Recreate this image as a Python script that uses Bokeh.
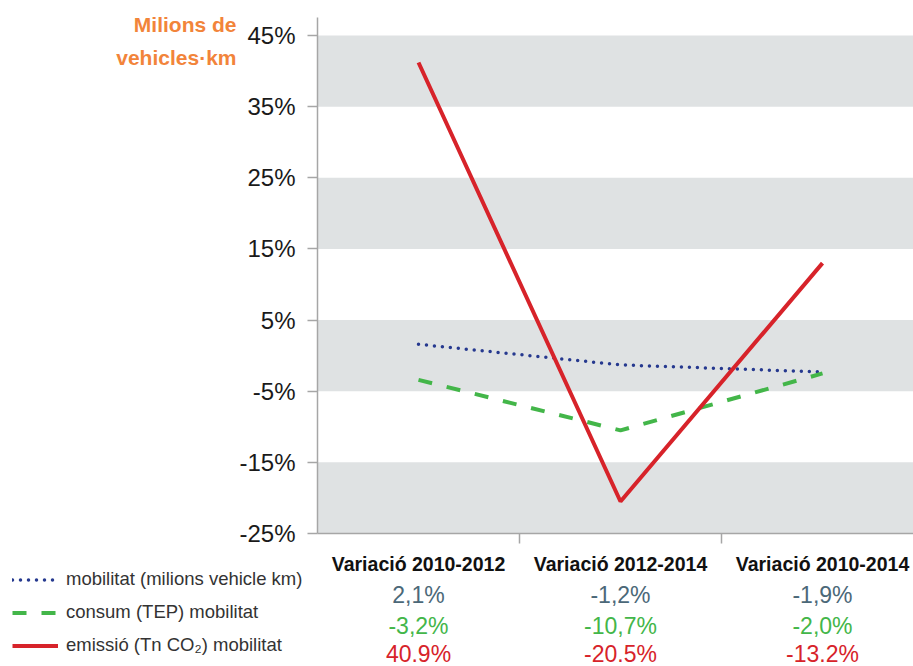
from bokeh.plotting import figure
from bokeh.models import (Range1d, FixedTicker, LinearAxis, BoxAnnotation, Label,
                          Legend, LegendItem)
from bokeh.embed import file_html
from bokeh.resources import INLINE

# ---- data ----
categories = ["Variació 2010-2012", "Variació 2012-2014", "Variació 2010-2014"]
mobilitat = [1.6, -1.3, -2.3]        # as drawn
consum = [-3.4, -10.5, -2.5]         # as drawn
emissio = [41.2, -20.5, 13.0]        # as drawn
mobilitat_labels = ["2,1%", "-1,2%", "-1,9%"]
consum_labels = ["-3,2%", "-10,7%", "-2,0%"]
emissio_labels = ["40.9%", "-20.5%", "-13.2%"]
series_names = ["mobilitat (milions vehicle km)", "consum (TEP) mobilitat", "emissió (Tn CO\u2082) mobilitat"]
y_ticks = [45, 35, 25, 15, 5, -5, -15, -25]

xi = list(range(len(categories)))

SANS = "'Liberation Sans', Arial, sans-serif"

BLUE = "#26398f"
GREEN = "#43b649"
RED = "#d7232a"
ORANGE = "#f2843a"
SLATE = "#4b6878"
AXIS = "#a6a6a6"

W, H = 913, 666
k = (533 - 35) / 70.0            # px per percentage unit
y_top = 45 + 35 / k
y_bot = -25 - (H - 533) / k
x_left = -0.5 - 317 / 202.0
x_right = -0.5 + (W - 317) / 202.0

p = figure(width=W, height=H, output_backend="svg", toolbar_location=None,
           x_range=Range1d(x_left, x_right), y_range=Range1d(y_bot, y_top),
           min_border=0, x_axis_type=None, y_axis_type=None)
p.outline_line_color = None
p.grid.visible = False
p.background_fill_color = "white"

# grey bands
for top, bot in zip(y_ticks[0::2], y_ticks[1::2]):
    p.add_layout(BoxAnnotation(left=-0.5, bottom=bot, top=top, fill_color="#dfe2e3", fill_alpha=1,
                               line_color=None, level="underlay"))

# y axis
ya = LinearAxis(ticker=FixedTicker(ticks=y_ticks), fixed_location=-0.5, bounds=(-25, 47.5))
ya.major_label_overrides = {t: f"{t}%" for t in y_ticks}
ya.axis_line_color = AXIS
ya.axis_line_width = 1.5
ya.major_tick_line_color = AXIS
ya.major_tick_line_width = 1.5
ya.major_tick_out = 10
ya.major_tick_in = 0
ya.minor_tick_line_color = None
ya.major_label_text_font = SANS
ya.major_label_text_font_size = "24px"
ya.major_label_text_color = "#1a1a1a"
ya.major_label_standoff = 12
p.add_layout(ya, "left")

# x axis (categories)
xa = LinearAxis(ticker=FixedTicker(ticks=xi, minor_ticks=[0.5, 1.5]), fixed_location=-25,
                bounds=(-0.5, x_right))
xa.major_label_overrides = {i: c for i, c in zip(xi, categories)}
xa.axis_line_color = AXIS
xa.axis_line_width = 1.5
xa.major_tick_line_color = None
xa.major_tick_out = 0
xa.major_tick_in = 0
xa.minor_tick_line_color = AXIS
xa.minor_tick_line_width = 1.5
xa.minor_tick_out = 10
xa.minor_tick_in = 0
xa.major_label_text_font = SANS
xa.major_label_text_font_style = "bold"
xa.major_label_text_font_size = "19.5px"
xa.major_label_text_color = "#111111"
xa.major_label_standoff = 9
p.add_layout(xa, "below")

for labels, col, off in [(mobilitat_labels, SLATE, 48), (consum_labels, GREEN, 79),
                         (emissio_labels, RED, 107)]:
    ax = LinearAxis(ticker=FixedTicker(ticks=xi), fixed_location=-25)
    ax.major_label_overrides = {i: s for i, s in zip(xi, labels)}
    ax.axis_line_color = None
    ax.major_tick_line_color = None
    ax.minor_tick_line_color = None
    ax.major_tick_out = 0
    ax.major_tick_in = 0
    ax.major_label_text_font = SANS
    ax.major_label_text_font_size = "23px"
    ax.major_label_text_color = col
    ax.major_label_standoff = off
    p.add_layout(ax, "below")

# lines
r_blue = p.line(xi, mobilitat, line_color=BLUE, line_width=3.5, line_dash="0 8", line_cap="round")
r_green = p.line(xi, consum, line_color=GREEN, line_width=4, line_dash="14 15")
r_red = p.line(xi, emissio, line_color=RED, line_width=4)

legend = Legend(items=[LegendItem(label=series_names[0], renderers=[r_blue]),
                       LegendItem(label=series_names[1], renderers=[r_green]),
                       LegendItem(label=series_names[2], renderers=[r_red])],
                location=(12, 10), orientation="vertical",
                background_fill_alpha=0, border_line_color=None,
                glyph_width=46, glyph_height=21, label_standoff=8, spacing=11,
                padding=0, margin=0, label_height=21,
                label_text_font=SANS, label_text_font_size="18.5px", label_text_color="#333333")
p.add_layout(legend, "center")

# axis title (orange)
p.add_layout(Label(x=-0.5, y=47.5, x_offset=-81, y_offset=5, text="Milions de\nvehicles·km",
                   text_align="right", text_baseline="top", text_font=SANS,
                   text_font_style="bold", text_font_size="21px", text_color=ORANGE,
                   text_line_height=1.45))

open("out.html", "w").write(file_html(p, INLINE))
